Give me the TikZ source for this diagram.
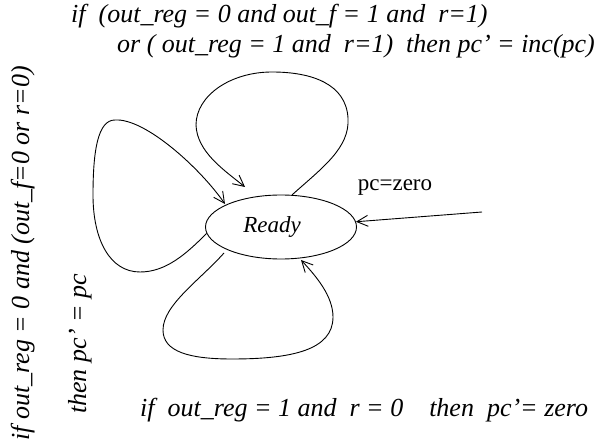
\documentclass[tikz,border=0pt]{standalone}
\usepackage{fontspec}
\setmainfont{Liberation Serif}
\usetikzlibrary{arrows.meta,shapes.geometric}
\begin{document}
\begin{tikzpicture}[x=1pt,y=-1pt,
  lbl/.style={font=\fontsize{26}{30}\selectfont\itshape, inner sep=0pt},
  edge/.style={line width=0.9pt},
  arr/.style={edge, -{Straight Barb[length=11pt,width=11pt,line width=0.9pt]}}]
\useasboundingbox (0,0) rectangle (606,446);
\node[draw, line width=0.9pt, ellipse, minimum width=151pt, minimum height=64pt, inner sep=0pt] (ready) at (281,227) {};
\node[font=\fontsize{23}{26}\selectfont\itshape] (readyt) at (272,227) {Ready};
\node[font=\fontsize{23}{26}\selectfont, inner sep=0pt] (pcz) at (395,188) {pc=zero};
\coordinate (inA) at (482,212);
\draw[arr] (inA) -- (ready.4);
% top loop
\coordinate (tS) at (ready.71);
\coordinate (tE) at (245,187);
\draw[arr] (tS) .. controls (322,168) and (350,148) .. (348,118)
  .. controls (346,84) and (312,72) .. (272,72)
  .. controls (230,72) and (196,96) .. (196,125)
  .. controls (197,152) and (224,170) .. (tE);
% left loop
\coordinate (lS) at (ready.185);
\coordinate (lE) at (225,204);
\draw[arr] (lS) .. controls (186,254) and (166,272) .. (140,272)
  .. controls (110,272) and (93,240) .. (93,195)
  .. controls (93,150) and (98,120) .. (115,120)
  .. controls (145,118) and (200,168) .. (lE);
% bottom loop
\coordinate (bS) at (224,253);
\coordinate (bE) at (301,260);
\draw[arr] (bS) .. controls (200,280) and (163,305) .. (163,330)
  .. controls (163,352) and (190,359) .. (232,359)
  .. controls (292,359) and (333,350) .. (333,317)
  .. controls (333,296) and (316,276) .. (bE);
% labels
\node[lbl, anchor=base west] (l1) at (71,23) {if\ \ (out\_reg = 0 and out\_f = 1 and\ \ r=1)};
\node[lbl, anchor=base west] (l2) at (117,53) {or ( out\_reg = 1 and\ \ r=1)\ \ then pc' = inc(pc)};
\node[lbl, anchor=base west] (l3) at (140,417) {if\ \ out\_reg = 1 and\ \ r = 0\ \ \ \ then\ \ pc'= zero};
\node[lbl, anchor=base west, rotate=90] (l4) at (29,441) {if out\_reg = 0 and (out\_f=0 or r=0)};
\node[lbl, anchor=base west, rotate=90] (l5) at (86,414) {then pc' = pc};
\end{tikzpicture}
\end{document}
